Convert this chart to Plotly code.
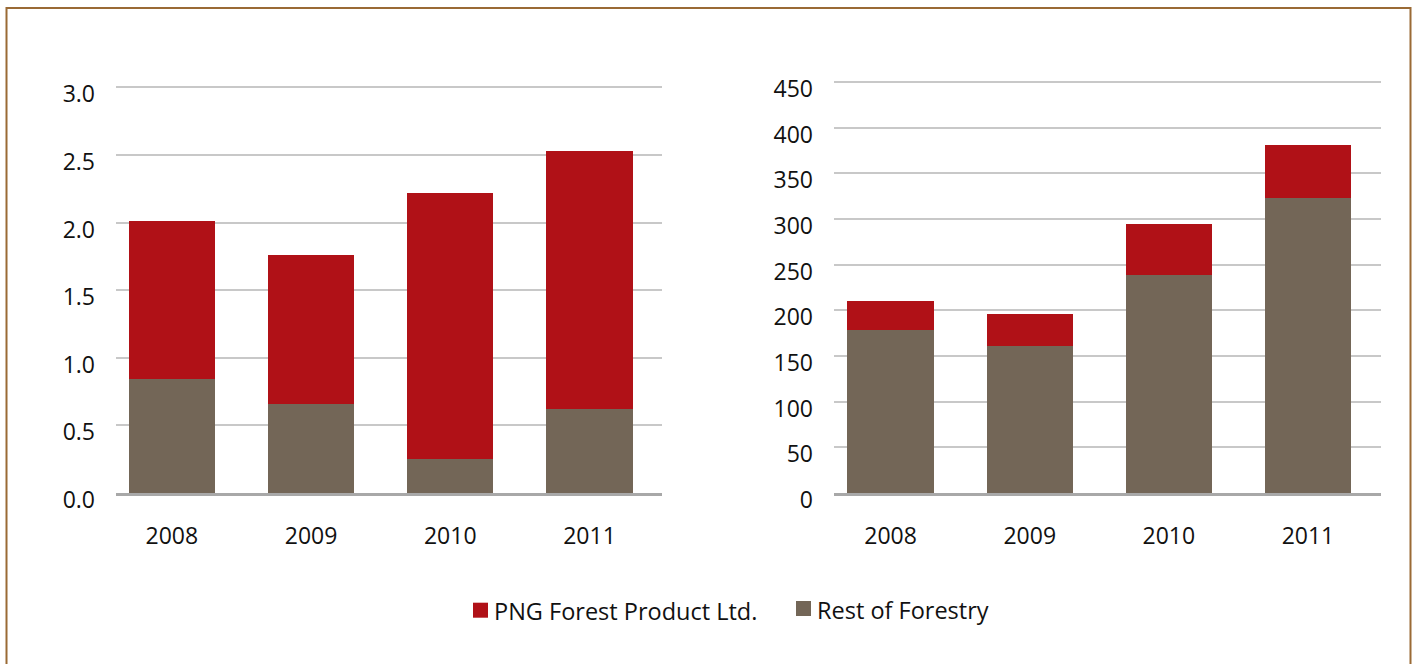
import plotly.graph_objects as go

years = ["2008", "2009", "2010", "2011"]
# Left panel
left_rest = [0.84, 0.66, 0.25, 0.62]
left_png = [1.17, 1.10, 1.97, 1.91]
# Right panel
right_rest = [178, 161, 239, 323]
right_png = [32, 35, 56, 58]

left_ticks = [0, 0.5, 1.0, 1.5, 2.0, 2.5, 3.0]
left_ticktext = ["0.0", "0.5", "1.0", "1.5", "2.0", "2.5", "3.0"]
right_ticks = [0, 50, 100, 150, 200, 250, 300, 350, 400, 450]

series_names = ["PNG Forest Product Ltd.", "Rest of Forestry"]

RED = "#b01117"
GREY = "#736657"
W, H = 1413, 664

fig = go.Figure()
fig.add_trace(go.Bar(x=years, y=left_rest, name=series_names[1], marker_color=GREY,
                     xaxis="x", yaxis="y", marker_line_width=0))
fig.add_trace(go.Bar(x=years, y=left_png, name=series_names[0], marker_color=RED,
                     xaxis="x", yaxis="y", marker_line_width=0))
fig.add_trace(go.Bar(x=years, y=right_rest, name=series_names[1], marker_color=GREY,
                     xaxis="x2", yaxis="y2", marker_line_width=0))
fig.add_trace(go.Bar(x=years, y=right_png, name=series_names[0], marker_color=RED,
                     xaxis="x2", yaxis="y2", marker_line_width=0))

tickfont = dict(family="Open Sans, sans-serif", size=23, color="#111111")
BASE = 493.0

xcommon = dict(showgrid=False, showline=True, linecolor="#a8a8a8", linewidth=3,
               ticks="", tickfont=tickfont, ticklabelstandoff=20, fixedrange=True,
               automargin=False)
ycommon = dict(showgrid=True, gridcolor="#c8c8c8", gridwidth=2, zeroline=False,
               showline=False, ticks="", tickfont=tickfont, ticklabelstandoff=20,
               ticklabelshift=7, automargin=False, fixedrange=True)


def px(x):
    return x / W


def py(y):
    return (H - y) / H


# pixel scales (pixels per unit)
left_scale = (BASE - 87.3) / 3.0
right_scale = (BASE - 82.0) / 450.0
left_top = 3.03
right_top = 455.0

legend_shapes = [
    dict(type="rect", xref="paper", yref="paper", x0=px(473), x1=px(488), y0=py(617.7), y1=py(602.7),
         fillcolor=RED, line=dict(width=0)),
    dict(type="rect", xref="paper", yref="paper", x0=px(796), x1=px(811), y0=py(616), y1=py(601),
         fillcolor=GREY, line=dict(width=0)),
]
legend_font = dict(family="Open Sans, sans-serif", size=23.5, color="#111111")
legend_annots = [
    dict(xref="paper", yref="paper", x=px(492), y=py(611), xanchor="left", yanchor="middle",
         text=series_names[0], showarrow=False, font=legend_font),
    dict(xref="paper", yref="paper", x=px(815), y=py(610), xanchor="left", yanchor="middle",
         text=series_names[1], showarrow=False, font=legend_font),
]

fig.update_layout(
    width=W, height=H,
    margin=dict(l=0, r=0, t=0, b=0, autoexpand=False),
    paper_bgcolor="white", plot_bgcolor="white",
    barmode="stack", bargap=0.38,
    xaxis=dict(domain=[px(116), px(662)], anchor="y", range=[-0.401, 3.521], **xcommon),
    yaxis=dict(domain=[py(BASE), py(BASE - left_top * left_scale)], anchor="x", range=[0, left_top],
               tickvals=left_ticks, ticktext=left_ticktext, **ycommon),
    xaxis2=dict(domain=[px(834), px(1381)], anchor="y2", range=[-0.407, 3.525], **xcommon),
    yaxis2=dict(domain=[py(BASE), py(BASE - right_top * right_scale)], anchor="x2", range=[0, right_top],
                tickvals=right_ticks, **ycommon),
    showlegend=False,
    hovermode=False,
    shapes=[dict(type="rect", xref="paper", yref="paper",
                 x0=px(6.5), x1=px(1410.5), y0=-0.1, y1=py(8),
                 line=dict(color="#9a6a35", width=2), fillcolor="rgba(0,0,0,0)", layer="below")]
           + legend_shapes,
    annotations=legend_annots,
)

fig.write_html("out.html", config={"displayModeBar": False},
               post_script="document.body.style.margin='0';document.body.style.overflow='hidden';")
